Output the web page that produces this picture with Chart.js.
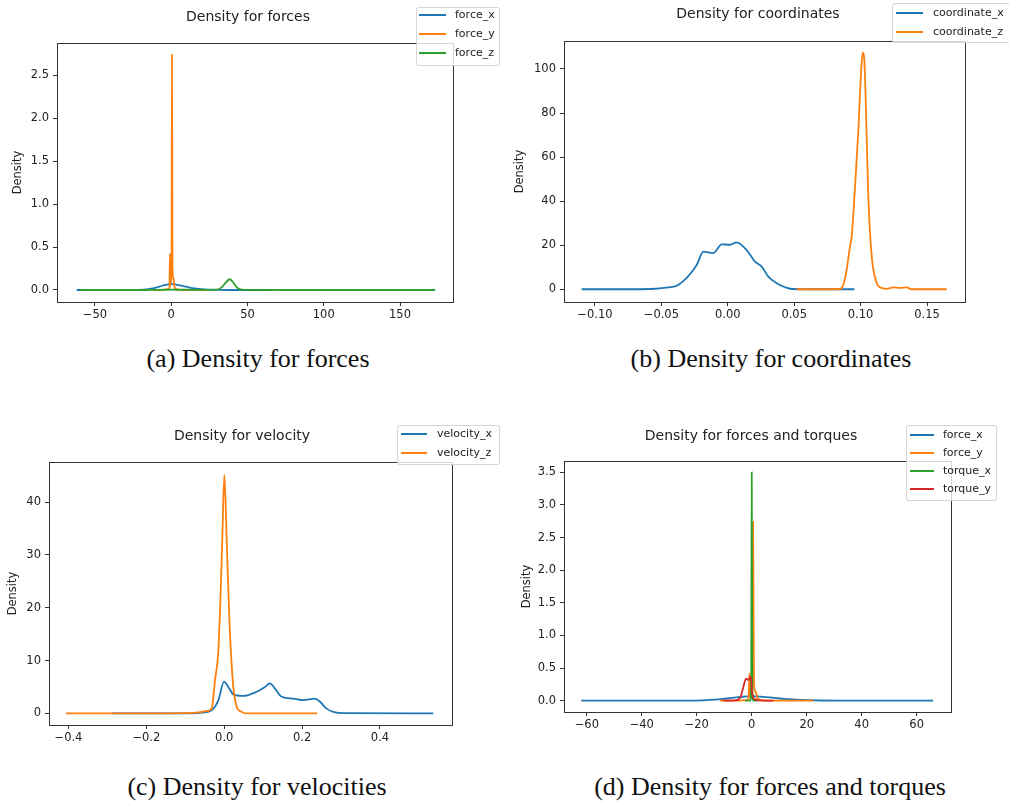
<!DOCTYPE html>
<html>
<head>
<meta charset="utf-8">
<script src="https://cdn.jsdelivr.net/npm/chart.js"></script>
<style>
  body { margin: 0; width: 1009px; height: 803px; background: #fff; overflow: hidden; position: relative; }
  canvas { position: absolute; }
  .titulo { position: absolute; font: 14px "DejaVu Sans"; color: #222; transform: translate(-50%, -50%); white-space: nowrap; }
  .caption { position: absolute; font: 26px "Liberation Serif"; color: #111; transform: translate(-50%, -50%); white-space: nowrap; }
  .leyenda { position: absolute; background: rgba(255,255,255,0.8); border: 1px solid rgba(204,204,204,0.8); border-radius: 3px; box-sizing: border-box; }
  .leyenda .fila { position: absolute; left: 0; right: 0; height: 18px; }
  .leyenda .linea { position: absolute; top: 8px; height: 2px; }
  .leyenda .texto { position: absolute; top: 0; font: 11px "DejaVu Sans"; line-height: 18px; color: #222; white-space: nowrap; }
</style>
</head>
<body>
<canvas id="gA" width="495" height="335" style="left:0;top:0;width:495px;height:335px"></canvas>
<canvas id="gB" width="514" height="335" style="left:495px;top:0;width:514px;height:335px"></canvas>
<canvas id="gC" width="495" height="345" style="left:0;top:410px;width:495px;height:345px"></canvas>
<canvas id="gD" width="514" height="345" style="left:495px;top:410px;width:514px;height:345px"></canvas>

<div class="titulo" style="left:248px;top:16px">Density for forces</div>
<div class="titulo" style="left:758px;top:13px">Density for coordinates</div>
<div class="titulo" style="left:242px;top:435px">Density for velocity</div>
<div class="titulo" style="left:751px;top:435px">Density for forces and torques</div>

<div class="caption" style="left:258px;top:359px">(a) Density for forces</div>
<div class="caption" style="left:771px;top:359px">(b) Density for coordinates</div>
<div class="caption" style="left:257px;top:787px">(c) Density for velocities</div>
<div class="caption" style="left:770px;top:787px">(d) Density for forces and torques</div>

<script>
const colores = ['#1f77b4', '#ff7f0e', '#2ca02c', '#d62728'];

// fuerzas (se usan en a y d)
const forceXx = [-62, -40, -25, -18, -12, -8, -4, 0, 4, 8, 12, 18, 25, 40, 66];
const forceXy = [0, 0, 0.001, 0.005, 0.02, 0.038, 0.058, 0.07, 0.06, 0.045, 0.028, 0.012, 0.003, 0, 0];
const forceYx = [-11.5, -5, -2, -1.2, -0.8, -0.5, -0.2, 0.2, 0.5, 0.8, 1.2, 1.6, 2.2, 4, 10, 22.4];
const forceYy = [0, 0.002, 0.01, 0.03, 0.42, 0.05, 0.1, 0.3, 2.74, 0.3, 0.15, 0.12, 0.03, 0.005, 0, 0];
const forceZx = [-59.7, -20, 0, 20, 30, 33, 36, 38.3, 40.5, 43, 46, 55, 80, 173];
const forceZy = [0, 0, 0.003, 0.002, 0.005, 0.03, 0.09, 0.125, 0.09, 0.03, 0.005, 0.001, 0, 0];

// coordenadas
const coordXx = [-0.110, -0.08, -0.0573, -0.045, -0.0373, -0.0234, -0.0184, -0.0109, -0.0046, 0.0017, 0.0067, 0.0142, 0.0205, 0.0255, 0.0305, 0.0368, 0.0431, 0.0481, 0.07, 0.0953];
const coordXy = [0, 0, 0.1, 0.8, 1.9, 11, 17.1, 16.4, 20.4, 20.2, 21.3, 17.8, 12.5, 10.3, 5.7, 2.7, 0.9, 0.1, 0, 0];
const coordZx = [0.0519, 0.082, 0.0858, 0.0875, 0.0895, 0.092, 0.0933, 0.0958, 0.0983, 0.1005, 0.1016, 0.1028, 0.1041, 0.1058, 0.1084, 0.1122, 0.1146, 0.1197, 0.1246, 0.1297, 0.1347, 0.1385, 0.1648];
const coordZy = [0, 0, 0.5, 3, 8.8, 19.3, 24, 46.6, 72, 100, 107.4, 104, 80, 42, 14.8, 2.7, 0.9, 0.2, 0.8, 0.6, 0.8, 0, 0];

// velocidades
const velXx = [-0.289, -0.1, -0.062, -0.032, -0.015, -0.0005, 0.0105, 0.0234, 0.049, 0.0834, 0.1047, 0.1176, 0.1304, 0.1476, 0.1774, 0.203, 0.233, 0.246, 0.263, 0.28, 0.306, 0.537];
const velXy = [0, 0, 0.1, 0.6, 2.5, 6.0, 5.0, 3.6, 3.3, 4.1, 5.0, 5.7, 4.7, 3.15, 2.8, 2.5, 2.8, 2.2, 0.9, 0.3, 0.05, 0];
const velZx = [-0.407, -0.2, -0.079, -0.041, -0.032, -0.0236, -0.015, -0.009, -0.005, 0.0003, 0.0064, 0.013, 0.0218, 0.032, 0.045, 0.053, 0.239];
const velZy = [0, 0, 0.1, 0.5, 0.95, 6.3, 12, 23.3, 32.8, 45.2, 32.8, 18.3, 6.3, 1.25, 0.3, 0, 0];

// torques
const torqueXx = [-2.4, -0.5, -0.2, 0, 0.2, 0.5, 2.4];
const torqueXy = [0, 0, 0.3, 3.5, 0.3, 0, 0];
const torqueYx = [-10.3, -6, -4.25, -3.05, -2.07, -1.2, -0.36, 0.2, 1.2, 4, 7.9];
const torqueYy = [0, 0.005, 0.04, 0.21, 0.34, 0.32, 0.37, 0.11, 0.02, 0, 0];

// ticks
const ticksAx = [-50, 0, 50, 100, 150];
const etiqAx = ['\u221250', '0', '50', '100', '150'];
const ticksAy = [0, 0.5, 1, 1.5, 2, 2.5];
const etiqAy = ['0.0', '0.5', '1.0', '1.5', '2.0', '2.5'];
const ticksBx = [-0.10, -0.05, 0, 0.05, 0.10, 0.15];
const etiqBx = ['\u22120.10', '\u22120.05', '0.00', '0.05', '0.10', '0.15'];
const ticksBy = [0, 20, 40, 60, 80, 100];
const etiqBy = ['0', '20', '40', '60', '80', '100'];
const ticksCx = [-0.4, -0.2, 0, 0.2, 0.4];
const etiqCx = ['\u22120.4', '\u22120.2', '0.0', '0.2', '0.4'];
const ticksCy = [0, 10, 20, 30, 40];
const etiqCy = ['0', '10', '20', '30', '40'];
const ticksDx = [-60, -40, -20, 0, 20, 40, 60];
const etiqDx = ['\u221260', '\u221240', '\u221220', '0', '20', '40', '60'];
const ticksDy = [0, 0.5, 1, 1.5, 2, 2.5, 3, 3.5];
const etiqDy = ['0.0', '0.5', '1.0', '1.5', '2.0', '2.5', '3.0', '3.5'];

Chart.defaults.font.family = 'DejaVu Sans';

// marco alrededor del area (spines de matplotlib)
const marco = {
    id: 'marco',
    afterDatasetsDraw(chart) {
        const a = chart.chartArea;
        const ctx = chart.ctx;
        ctx.save();
        ctx.strokeStyle = '#333';
        ctx.lineWidth = 1;
        ctx.strokeRect(Math.round(a.left) + 0.5, Math.round(a.top) + 0.5, Math.round(a.right - a.left), Math.round(a.bottom - a.top));
        ctx.restore();
    }
};

function puntos(xs, ys) {
    return xs.map((x, i) => ({ x: x, y: ys[i] }));
}

function grafica(id, area, anchoY, padIzq, rangoX, rangoY, tx, ex, ty, ey, series) {
    const canvas = document.getElementById(id);
    const W = canvas.width, H = canvas.height;
    const altoX = 25;

    const datasets = series.map((s, i) => ({
        label: s.label,
        data: puntos(s.xs, s.ys),
        borderColor: colores[i],
        borderWidth: 1.8,
        pointRadius: 0,
        fill: false,
        cubicInterpolationMode: 'monotone',
        order: -i
    }));

    new Chart(canvas.getContext('2d'), {
        type: 'line',
        data: { datasets: datasets },
        options: {
            responsive: false,
            animation: false,
            layout: {
                padding: { left: padIzq, top: area[1], right: W - area[2], bottom: H - area[3] - altoX }
            },
            plugins: { legend: { display: false }, tooltip: { enabled: false } },
            scales: {
                x: {
                    type: 'linear',
                    min: rangoX[0],
                    max: rangoX[1],
                    afterBuildTicks: (s) => { s.ticks = tx.map(v => ({ value: v })); },
                    afterFit: (s) => { s.height = altoX; },
                    ticks: { autoSkip: false, maxRotation: 0, padding: 2, color: '#222', font: { size: 11.5 }, callback: (v, i) => ex[i] },
                    grid: { drawOnChartArea: false, drawTicks: true, tickLength: 4, color: '#333' },
                    border: { display: false }
                },
                y: {
                    type: 'linear',
                    min: rangoY[0],
                    max: rangoY[1],
                    afterBuildTicks: (s) => { s.ticks = ty.map(v => ({ value: v })); },
                    afterFit: (s) => { s.width = anchoY; },
                    ticks: { autoSkip: false, padding: 4, color: '#222', font: { size: 11.5 }, callback: (v, i) => ey[i] },
                    grid: { drawOnChartArea: false, drawTicks: true, tickLength: 4, color: '#333' },
                    border: { display: false },
                    title: { display: true, text: 'Density', color: '#222', font: { size: 11.5 }, padding: 0 }
                }
            }
        },
        plugins: [marco]
    });
}

// leyenda html hecha con las mismas series
function leyenda(caja, fila0, salto, lineaX, lineaW, textoX, nombres) {
    const div = document.createElement('div');
    div.className = 'leyenda';
    div.style.left = caja[0] + 'px';
    div.style.top = caja[1] + 'px';
    div.style.width = caja[2] + 'px';
    div.style.height = caja[3] + 'px';
    nombres.forEach((n, i) => {
        const f = document.createElement('div');
        f.className = 'fila';
        f.style.top = (fila0 + i * salto - 9 - 1) + 'px';
        const l = document.createElement('div');
        l.className = 'linea';
        l.style.left = lineaX + 'px';
        l.style.width = lineaW + 'px';
        l.style.background = colores[i];
        const t = document.createElement('div');
        t.className = 'texto';
        t.style.left = textoX + 'px';
        t.textContent = n;
        f.appendChild(l);
        f.appendChild(t);
        div.appendChild(f);
    });
    document.body.appendChild(div);
}

// (a)
grafica('gA', [57, 43, 453, 302], 45.9, 11.1, [-74.9, 184.75], [-0.14, 2.876], ticksAx, etiqAx, ticksAy, etiqAy, [
    { label: 'force_x', xs: forceXx, ys: forceXy },
    { label: 'force_y', xs: forceYx, ys: forceYy },
    { label: 'force_z', xs: forceZx, ys: forceZy }
]);
// (b)
grafica('gB', [69, 41, 470, 302], 50.9, 18.1, [-0.1233, 0.1786], [-5.8, 112.7], ticksBx, etiqBx, ticksBy, etiqBy, [
    { label: 'coordinate_x', xs: coordXx, ys: coordXy },
    { label: 'coordinate_z', xs: coordZx, ys: coordZy }
]);
// (c)
grafica('gC', [49, 52, 452, 315], 43.2, 5.8, [-0.45, 0.585], [-2.2, 47.6], ticksCx, etiqCx, ticksCy, etiqCy, [
    { label: 'velocity_x', xs: velXx, ys: velXy },
    { label: 'velocity_z', xs: velZx, ys: velZy }
]);
// (d)
grafica('gD', [69, 51, 456, 302], 44.2, 24.8, [-68.3, 72.5], [-0.173, 3.674], ticksDx, etiqDx, ticksDy, etiqDy, [
    { label: 'force_x', xs: forceXx, ys: forceXy },
    { label: 'force_y', xs: forceYx, ys: forceYy },
    { label: 'torque_x', xs: torqueXx, ys: torqueXy },
    { label: 'torque_y', xs: torqueYx, ys: torqueYy }
]);

leyenda([416, 7, 84, 59], 8, 18.8, 2, 27, 38, ['force_x', 'force_y', 'force_z']);
leyenda([892, 3, 130, 40], 10, 18.7, 3, 27, 40, ['coordinate_x', 'coordinate_z']);
leyenda([397, 425, 103, 40], 9, 19.3, 3, 26, 39, ['velocity_x', 'velocity_z']);
leyenda([906, 425, 91, 76], 10, 18.1, 3, 24, 36, ['force_x', 'force_y', 'torque_x', 'torque_y']);
</script>
</body>
</html>
